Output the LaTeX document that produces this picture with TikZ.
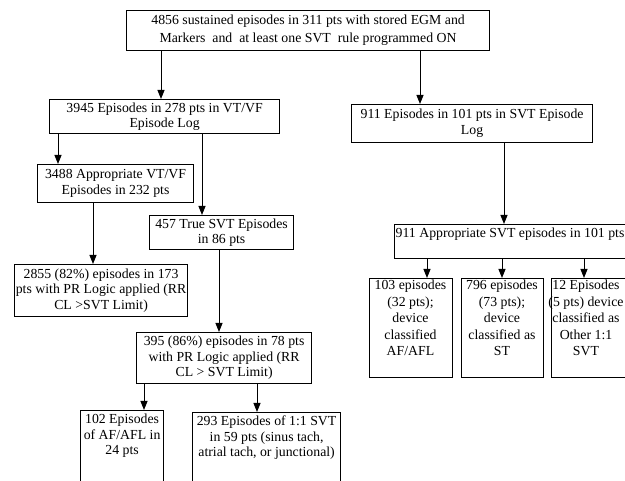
\documentclass[tikz,border=0pt]{standalone}
\usepackage{fontspec}
\setmainfont{Liberation Serif}
\usetikzlibrary{arrows.meta}

\tikzset{
  box/.style={draw, line width=1.2pt, inner sep=0pt, align=center, anchor=north west},
  txt/.style={inner sep=0pt, align=center},
  arr/.style={line width=1pt, -{Triangle[length=9pt,width=7pt]}},
}

\begin{document}
\begin{tikzpicture}[x=1pt, y=-1pt, font=\fontsize{13.8}{15.5}\selectfont]
    \useasboundingbox (0,0) rectangle (625,481);
    \clip (0,0) rectangle (625,481);

    % Rama izquierda
    \node[box, minimum width=363pt, minimum height=40pt, font=\fontsize{13.8}{18}\selectfont] (top) at (126,10)
        {4856 sustained episodes in 311 pts with stored EGM and\\Markers\ \ and\ \ at least one SVT\ \ rule programmed ON};
    \node[box, minimum width=230pt, minimum height=34pt] (vtvf) at (49,99)
        {3945 Episodes in 278 pts in VT/VF\\Episode Log};
    \node[box, minimum width=156pt, minimum height=38pt] (appvt) at (37,164)
        {3488 Appropriate VT/VF\\Episodes in 232 pts};
    \node[box, minimum width=144pt, minimum height=34pt] (truesvt) at (149,215)
        {457 True SVT Episodes\\in 86 pts};
    \node[box, minimum width=173pt, minimum height=52pt] (prA) at (14,264)
        {2855 (82\%) episodes in 173\\pts with PR Logic applied (RR\\CL >SVT Limit)};
    \node[box, minimum width=175pt, minimum height=51pt] (prB) at (136,332)
        {395 (86\%) episodes in 78 pts\\with PR Logic applied (RR\\CL > SVT Limit)};
    \node[box, minimum width=83pt, minimum height=100pt] (afl) at (80,410) {};
    \node[txt, anchor=north] (aflT) at ([yshift=-4pt]afl.north)
        {102 Episodes\\of AF/AFL in\\24 pts};
    \node[box, minimum width=148pt, minimum height=100pt] (oneone) at (192,412) {};
    \node[txt, anchor=north] (oneoneT) at ([yshift=-4pt]oneone.north)
        {293 Episodes of 1:1 SVT\\in 59 pts (sinus tach,\\atrial tach, or junctional)};

    % Rama derecha
    \node[box, minimum width=241pt, minimum height=38pt, font=\fontsize{13.8}{16}\selectfont] (svtlog) at (351,104)
        {911 Episodes in 101 pts in SVT Episode\\Log};
    \node[box, minimum width=260pt, minimum height=34pt] (appsvt) at (394,224) {};
    \node[txt, anchor=north west] (appsvtT) at ([xshift=1.5pt,yshift=-4pt]appsvt.north west)
        {911 Appropriate SVT episodes in 101 pts};
    \foreach \n/\x/\w/\cx/\val in {
        afdev/369/83/410.5/{103 episodes\\(32 pts);\\device\\classified\\AF/AFL},
        stdev/461/82/502/{796 episodes\\(73 pts);\\device\\classified as\\ST},
        othdev/551/90/586/{12 Episodes\\(5 pts) device\\classified as\\Other 1:1\\SVT}} {
        \node[box, minimum width=\w pt, minimum height=99pt] (\n) at (\x,278) {};
        \node[txt, anchor=north, font=\fontsize{13.8}{16.5}\selectfont] (\n T) at (\cx,280) {\val};
    }

    % Flechas
    \draw[arr] (top.south -| 161,0) -- (vtvf.north -| 161,0);
    \draw[arr] (top.south -| 420,0) -- (svtlog.north -| 420,0);
    \draw[arr] (vtvf.south -| 58,0) -- (appvt.north -| 58,0);
    \draw[arr] (vtvf.south -| 202,0) -- (truesvt.north -| 202,0);
    \draw[arr] (appvt.south -| 93,0) -- (prA.north -| 93,0);
    \draw[arr] (truesvt.south -| 219,0) -- (prB.north -| 219,0);
    \draw[arr] (prB.south -| 144,0) -- (afl.north -| 144,0);
    \draw[arr] (prB.south -| 257,0) -- (oneone.north -| 257,0);
    \draw[arr] (svtlog.south -| 504,0) -- (appsvt.north -| 504,0);
    \foreach \n/\x in {afdev/427, stdev/502, othdev/584}
        \draw[arr] (appsvt.south -| \x,0) -- (\n.north -| \x,0);
\end{tikzpicture}
\end{document}
